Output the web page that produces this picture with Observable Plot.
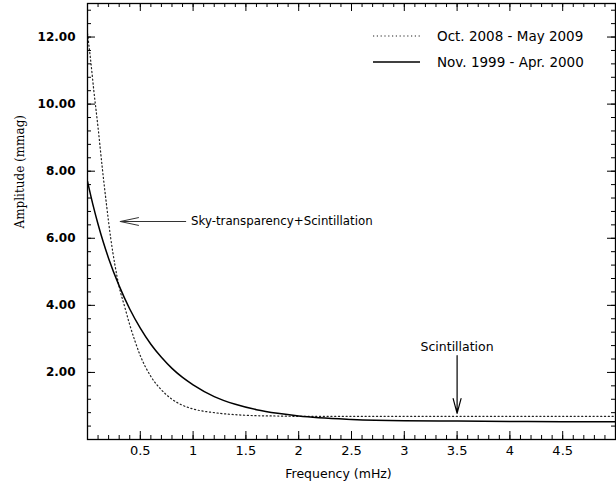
<!DOCTYPE html>
<html><head><meta charset="utf-8">
<script src="https://cdn.jsdelivr.net/npm/d3@7"></script>
<script src="https://cdn.jsdelivr.net/npm/@observablehq/plot@0.6"></script>
<style>
body{margin:0;background:#fff}
#wrap{position:relative;width:616px;height:482px}
#legend{position:absolute;left:0;top:0;pointer-events:none}
</style>
</head><body><div id="wrap"></div>
<script>
// ---- data ----
const seriesNames = ["Oct. 2008 - May 2009", "Nov. 1999 - Apr. 2000"];
const freqSolid = [0, 0.05, 0.1, 0.15, 0.2, 0.3, 0.4, 0.5, 0.6, 0.7, 0.8, 0.9, 1.0, 1.2, 1.4, 1.6, 1.8, 2.0, 2.5, 3.0, 3.5, 4.0, 4.5, 5.0];
const ampSolid  = [7.70, 7.02, 6.42, 5.88, 5.40, 4.58, 3.89, 3.32, 2.84, 2.45, 2.12, 1.85, 1.63, 1.28, 1.05, 0.89, 0.78, 0.70, 0.60, 0.56, 0.55, 0.54, 0.53, 0.53];
const freqDotted = [0, 0.03, 0.06, 0.1, 0.14, 0.18, 0.22, 0.26, 0.3, 0.35, 0.4, 0.45, 0.5, 0.6, 0.7, 0.8, 0.9, 1.0, 1.2, 1.4, 1.6, 1.8, 2.0, 2.5, 3.0, 4.0, 5.0];
const ampDotted  = [12.1, 11.3, 10.4, 9.3, 8.1, 7.0, 6.0, 5.2, 4.55, 3.98, 3.42, 2.93, 2.5, 1.88, 1.48, 1.2, 1.02, 0.91, 0.8, 0.74, 0.71, 0.70, 0.69, 0.69, 0.69, 0.69, 0.69];
const xMajorTicks = [0.5, 1, 1.5, 2, 2.5, 3, 3.5, 4, 4.5];
const yMajorTicks = [2, 4, 6, 8, 10, 12];
const xMinorTicks = d3.range(1, 50).map(i => i / 10);
const yMinorTicks = d3.range(1, 33).map(i => +(i * 0.4).toFixed(1));
const xDomain = [0, 5];
const yDomain = [0, 13];
const xLabel = "Frequency (mHz)";
const yLabel = "Amplitude (mmag)";
const skyNote = [{label: "Sky-transparency+Scintillation", x1: 0.93, y1: 6.5, x2: 0.31, y2: 6.5, tx: 0.98, ty: 6.5}];
const scintNote = [{label: "Scintillation", x1: 3.5, y1: 2.5, x2: 3.5, y2: 0.78, tx: 3.5, ty: 2.76}];

const solid = freqSolid.map((f, i) => ({f, a: ampSolid[i]}));
const dotted = freqDotted.map((f, i) => ({f, a: ampDotted[i]}));

// ---- layout ----
const W = 616, H = 482, mL = 87, mR = 1, mT = 3, mB = 43;
const pW = W - mL - mR, pH = H - mT - mB;

const chart = Plot.plot({
  width: W, height: H,
  marginLeft: mL, marginRight: mR, marginTop: mT, marginBottom: mB,
  style: {fontFamily: "DejaVu Sans", fontSize: "13px", background: "white", color: "black"},
  x: {domain: xDomain},
  y: {domain: yDomain},
  marks: [
    Plot.line(dotted, {x: "f", y: "a", stroke: "#222", strokeWidth: 1.2, strokeDasharray: "1.2,2.6", curve: "monotone-x", clip: true}),
    Plot.line(solid, {x: "f", y: "a", stroke: "black", strokeWidth: 1.5, curve: "monotone-x", clip: true}),
    // inward ticks on all four sides
    Plot.tickX(xMinorTicks, {x: d => d, insetTop: pH - 4, stroke: "black"}),
    Plot.tickX(xMajorTicks, {x: d => d, insetTop: pH - 8, stroke: "black"}),
    Plot.tickX(xMinorTicks, {x: d => d, insetBottom: pH - 4, stroke: "black"}),
    Plot.tickX(xMajorTicks, {x: d => d, insetBottom: pH - 8, stroke: "black"}),
    Plot.tickY(yMinorTicks, {y: d => d, insetRight: pW - 4, stroke: "black"}),
    Plot.tickY(yMajorTicks, {y: d => d, insetRight: pW - 8, stroke: "black"}),
    Plot.tickY(yMinorTicks, {y: d => d, insetLeft: pW - 4, stroke: "black"}),
    Plot.tickY(yMajorTicks, {y: d => d, insetLeft: pW - 8, stroke: "black"}),
    Plot.frame({stroke: "black", strokeWidth: 1.3}),
    Plot.axisX({ticks: xMajorTicks, tickSize: 0, tickPadding: 6, tickFormat: d => String(d), label: null, fontSize: 13}),
    Plot.axisY({ticks: yMajorTicks, tickSize: 0, tickPadding: 12, tickFormat: d3.format(".2f"), label: null, fontWeight: "bold", fontSize: 12}),
    Plot.text([xLabel], {frameAnchor: "bottom", dy: 38, dx: -13, fontSize: 12.5}),
    Plot.text([yLabel], {frameAnchor: "left", rotate: -90, dx: -67, dy: 7, fontFamily: "DejaVu Serif", fontSize: 12}),
    // annotations
    Plot.arrow(skyNote, {x1: "x1", y1: "y1", x2: "x2", y2: "y2", stroke: "#333", strokeWidth: 1, headLength: 28, headAngle: 24}),
    Plot.text(skyNote, {x: "tx", y: "ty", text: "label", textAnchor: "start", fontSize: 11.8}),
    Plot.arrow(scintNote, {x1: "x1", y1: "y1", x2: "x2", y2: "y2", stroke: "black", strokeWidth: 1.2, headLength: 19, headAngle: 30}),
    Plot.text(scintNote, {x: "tx", y: "ty", text: "label", textAnchor: "middle", fontSize: 12.5})
  ]
});

const wrap = document.getElementById("wrap");
wrap.appendChild(chart);

// ---- legend (top right, inside the frame) ----
const ns = "http://www.w3.org/2000/svg";
const leg = document.createElementNS(ns, "svg");
leg.setAttribute("id", "legend");
leg.setAttribute("width", W);
leg.setAttribute("height", H);
const legendRows = [
  {name: seriesNames[0], y: 36, dash: "1.2,2.6", color: "#222", sw: 1.2},
  {name: seriesNames[1], y: 62, dash: null, color: "black", sw: 1.5}
];
legendRows.forEach(r => {
  const ln = document.createElementNS(ns, "line");
  ln.setAttribute("x1", 373); ln.setAttribute("x2", 420);
  ln.setAttribute("y1", r.y); ln.setAttribute("y2", r.y);
  ln.setAttribute("stroke", r.color); ln.setAttribute("stroke-width", r.sw);
  if (r.dash) ln.setAttribute("stroke-dasharray", r.dash);
  leg.appendChild(ln);
  const t = document.createElementNS(ns, "text");
  t.setAttribute("x", 437); t.setAttribute("y", r.y);
  t.setAttribute("dy", "0.35em");
  t.setAttribute("font-family", "DejaVu Sans");
  t.setAttribute("font-size", "13.5px");
  t.setAttribute("fill", "black");
  t.textContent = r.name;
  leg.appendChild(t);
});
wrap.appendChild(leg);
</script>
</body></html>
